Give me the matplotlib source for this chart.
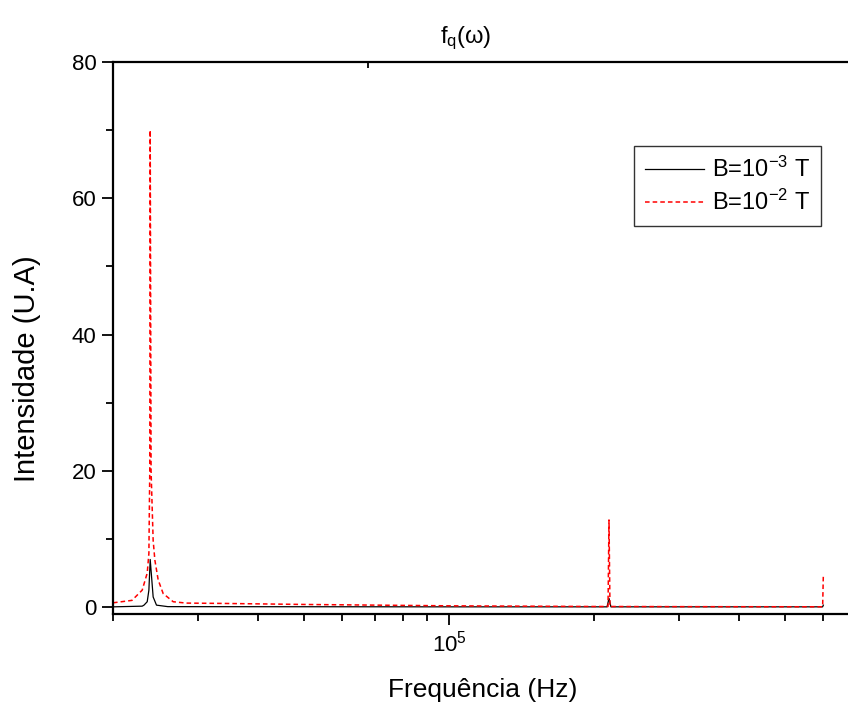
import numpy as np
import matplotlib.pyplot as plt
from matplotlib.ticker import LogLocator, NullFormatter, MultipleLocator

plt.rcParams['font.family'] = 'Liberation Sans'
plt.rcParams['mathtext.fontset'] = 'custom'
plt.rcParams['mathtext.rm'] = 'Liberation Sans'
plt.rcParams['mathtext.it'] = 'Liberation Sans:italic'
plt.rcParams['mathtext.default'] = 'regular'

# espectro para B = 1e-3 T
freq_b3 = [2.0e4, 2.30e4, 2.32e4, 2.356e4, 2.375e4, 2.39e4, 2.424e4, 2.463e4,
           2.6e4, 1.0e5, 2.13e5, 2.15e5, 2.17e5, 5.98e5, 6.0e5]
int_b3 = [0.05, 0.15, 0.3, 0.8, 2.5, 7.0, 1.5, 0.3,
          0.08, 0.05, 0.05, 1.3, 0.05, 0.05, 0.3]

# espectro para B = 1e-2 T
freq_b2 = [2.0e4, 2.19e4, 2.30e4, 2.356e4, 2.375e4, 2.385e4, 2.39e4, 2.40e4,
           2.424e4, 2.444e4, 2.483e4, 2.543e4, 2.668e4, 2.84e4, 3.4e4, 5.0e4,
           1.0e5, 2.0e5, 2.14e5, 2.15e5, 2.16e5, 3.0e5, 4.0e5, 5.98e5, 6.0e5]
int_b2 = [0.64, 1.0, 2.5, 5.0, 7.9, 20.0, 70.0, 20.0,
          9.8, 6.9, 4.0, 2.0, 0.8, 0.6, 0.55, 0.4,
          0.2, 0.1, 0.1, 12.8, 0.1, 0.08, 0.07, 0.06, 4.7]

fig = plt.figure(figsize=(8.48, 7.02), dpi=100)
ax = fig.add_axes([113/848, 88/702, 734/848, 552/702])

ax.plot(freq_b3, int_b3, color='black', lw=0.9, label=r'B=10$^{-3}$ T')
ax.plot(freq_b2, int_b2, color='red', lw=1.1, linestyle=(0, (3, 2)),
        label=r'B=10$^{-2}$ T')

ax.set_xscale('log')
ax.set_xlim(2.0e4, 6.72e5)
ax.set_ylim(-1.0, 80)

ax.xaxis.set_major_locator(LogLocator(base=10))
ax.xaxis.set_minor_locator(LogLocator(base=10, subs=np.arange(2, 10)))
ax.xaxis.set_minor_formatter(NullFormatter())
ax.yaxis.set_major_locator(MultipleLocator(20))
ax.yaxis.set_minor_locator(MultipleLocator(10))

ax.spines['right'].set_visible(False)
for s in ['left', 'bottom', 'top']:
    ax.spines[s].set_linewidth(1.6)

ax.tick_params(which='major', direction='out', length=8, width=1.3,
               labelsize=16, pad=4)
ax.tick_params(which='minor', direction='out', length=5, width=1.3)
ax.tick_params(top=False, right=False)

# marca solitaria no eixo superior
top = ax.twiny()
top.set_xscale('log')
top.set_xlim(ax.get_xlim())
top.set_xticks([6.79e4])
top.xaxis.set_minor_locator(plt.NullLocator())
top.tick_params(direction='in', length=4, width=1.3, labeltop=False)
for s in top.spines.values():
    s.set_visible(False)

ax.set_xlabel('Frequência (Hz)', fontsize=19)
ax.xaxis.set_label_coords(0.504, -0.116)
ax.set_ylabel('Intensidade (U.A)', fontsize=21)
ax.yaxis.set_label_coords(-0.098, 0.444)
fig.text(466/848, 1 - 38/702, r'f$_\mathrm{q}$(ω)', fontsize=17,
         ha='center', va='center')

leg = ax.legend(loc='upper right', bbox_to_anchor=(821/848, 1 - 146/702),
                bbox_transform=fig.transFigure, fontsize=17, frameon=True,
                fancybox=False, edgecolor='black', handlelength=2.5,
                borderpad=0.45, labelspacing=0.35, handletextpad=0.35,
                borderaxespad=0)
leg.get_frame().set_linewidth(1.0)

fig.savefig('out.png', dpi=100)
